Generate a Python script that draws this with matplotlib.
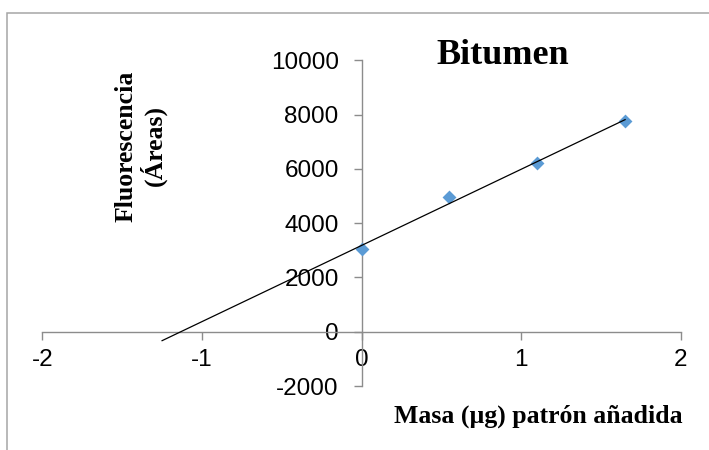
import numpy as np
import matplotlib
matplotlib.use("Agg")
import matplotlib.pyplot as plt
from matplotlib.patches import Rectangle

plt.rcParams["axes.unicode_minus"] = False

# standard addition data: added mass of standard vs fluorescence area
masa = [0.0, 0.55, 1.1, 1.65]
area = [3040, 4960, 6210, 7770]
x_ticks = [-2, -1, 0, 1, 2]
y_ticks = [-2000, 0, 2000, 4000, 6000, 8000, 10000]

# linear fit, extended backwards to cross the x axis
slope, intercept = np.polyfit(masa, area, 1)
x_fit = np.array([-1.25, max(masa)])
y_fit = slope * x_fit + intercept

fig = plt.figure(figsize=(7.09, 4.5), dpi=100)
ax = fig.add_axes([0.0597, 0.1422, 0.9008, 0.724])

ax.scatter(masa, area, marker="D", s=50, color="#5B9BD5", zorder=3, linewidths=0)
ax.plot(x_fit, y_fit, color="black", lw=0.9, zorder=4)

ax.set_xlim(-2, 2)
ax.set_ylim(-2000, 10000)
ax.set_xticks(x_ticks)
ax.set_yticks(y_ticks)

# axes cross at the origin
for side in ["top", "right"]:
    ax.spines[side].set_visible(False)
ax.spines["left"].set_position(("data", 0))
ax.spines["bottom"].set_position(("data", 0))
for side in ["left", "bottom"]:
    ax.spines[side].set_color("#8c8c8c")
    ax.spines[side].set_linewidth(1.0)

ax.tick_params(axis="both", direction="out", length=5.5, width=1.0, color="#8c8c8c",
               labelsize=17.5)
ax.tick_params(axis="x", pad=7)
ax.tick_params(axis="y", pad=11)
for lbl in ax.get_xticklabels() + ax.get_yticklabels():
    lbl.set_fontfamily("Liberation Sans")

serif = "Liberation Serif"
fig.text(503 / 709, 1 - 55 / 450, "Bitumen", fontsize=26, fontweight="bold",
         family=serif, ha="center", va="center")
fig.text(141 / 709, 1 - 146 / 450, "Fluorescencia\n(Áreas)", fontsize=18.5,
         fontweight="bold", family=serif, rotation=90, ha="center", va="center",
         linespacing=1.1)
fig.text(683 / 709, 1 - 416 / 450, "Masa (µg) patrón añadida", fontsize=18.5,
         fontweight="bold", family=serif, ha="right", va="center")

# chart area border
fig.patches.append(Rectangle((7.5 / 709, -0.1), 1.2, 1 - 12.5 / 450 + 0.1,
                             transform=fig.transFigure, fill=False,
                             edgecolor="#a6a6a6", lw=1.1))

fig.savefig("out.png", dpi=100)
